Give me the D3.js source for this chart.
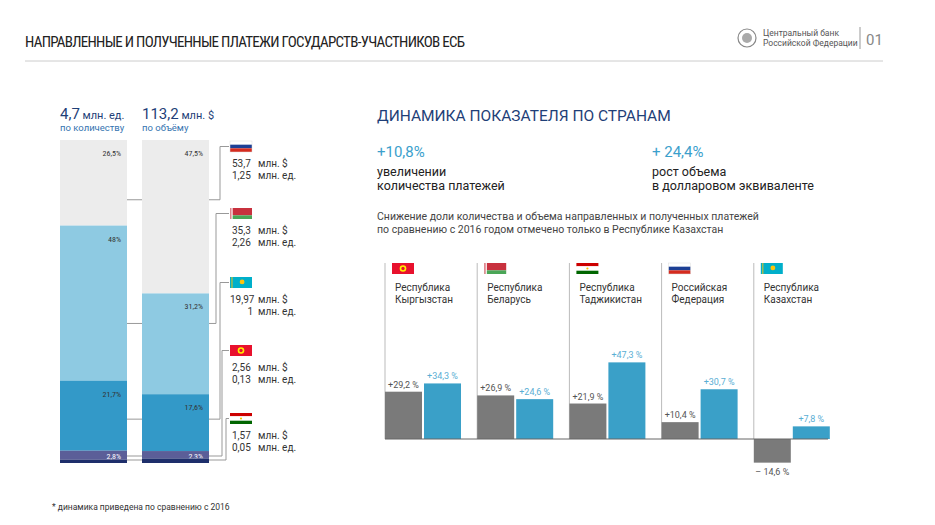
<!DOCTYPE html>
<html><head><meta charset="utf-8">
<script src="https://cdn.jsdelivr.net/npm/d3@7"></script>
<style>body{margin:0;background:#fff}svg{font-family:Roboto,"Noto Sans",sans-serif}</style>
</head><body><svg id="c" width="935" height="525"></svg>
<script>
// ---- data ----
const shareCountries = ["Россия","Беларусь","Казахстан","Кыргызстан","Таджикистан"];
const shareCount = [26.5, 48, 21.7, 2.8, 1.0];
const shareVolume = [47.5, 31.2, 17.6, 2.3, 1.4];
const shareCountLabels = ["26,5%","48%","21,7%","2,8%",""];
const shareVolumeLabels = ["47,5%","31,2%","17,6%","2,3%",""];
const volumeUsd = ["53,7","35,3","19,97","2,56","1,57"];
const countUnits = ["1,25","2,26","1","0,13","0,05"];
const flagCodes = ["ru","by","kz","kg","tj"];

const groups = ["Республика|Кыргызстан","Республика|Беларусь","Республика|Таджикистан","Российская|Федерация","Республика|Казахстан"];
const groupFlags = ["kg","by","tj","ru","kz"];
const growthCount = [29.2, 26.9, 21.9, 10.4, -14.6];
const growthVolume = [34.3, 24.6, 47.3, 30.7, 7.8];
const growthCountLabels = ["+29,2 %","+26,9 %","+21,9 %","+10,4 %","– 14,6 %"];
const growthVolumeLabels = ["+34,3 %","+24,6 %","+47,3 %","+30,7 %","+7,8 %"];

const segColors = ["#ececec","#8ecae2","#3399c8","#5b5e98","#1e2f6b"];
const svg = d3.select("#c");

// ---- header ----
svg.append("text").attr("x",25).attr("y",47).attr("font-size",15).attr("fill","#222")
  .attr("font-family","'Roboto Condensed','Liberation Sans Narrow',Roboto").attr("textLength",440)
  .text("НАПРАВЛЕННЫЕ И ПОЛУЧЕННЫЕ ПЛАТЕЖИ ГОСУДАРСТВ-УЧАСТНИКОВ ЕСБ");
svg.append("line").attr("x1",25).attr("x2",883).attr("y1",61).attr("y2",61).attr("stroke","#ccc");
svg.append("circle").attr("cx",747).attr("cy",38).attr("r",9).attr("fill","none").attr("stroke","#888").attr("stroke-width",1.2);
svg.append("circle").attr("cx",747).attr("cy",38).attr("r",5).attr("fill","#aaa");
svg.append("text").attr("x",763).attr("y",36).attr("font-size",8.5).attr("fill","#555").text("Центральный банк");
svg.append("text").attr("x",763).attr("y",46).attr("font-size",8.5).attr("fill","#555").text("Российской Федерации");
svg.append("line").attr("x1",860).attr("x2",860).attr("y1",27).attr("y2",49).attr("stroke","#999");
svg.append("text").attr("x",866).attr("y",45).attr("font-size",15).attr("fill","#888").text("01");

// ---- flags ----
function flag(g,code,x,y,w,h){
  const G=g.append("g").attr("transform",`translate(${x},${y})`);
  const r=(yy,hh,c)=>G.append("rect").attr("x",0).attr("y",yy*h).attr("width",w).attr("height",hh*h).attr("fill",c);
  if(code==="ru"){r(0,1/3,"#fff");r(1/3,1/3,"#1c3f94");r(2/3,1/3,"#d52b1e");G.append("rect").attr("width",w).attr("height",h).attr("fill","none").attr("stroke","#ddd").attr("stroke-width",0.5);}
  if(code==="by"){r(0,2/3,"#c8313e");r(2/3,1/3,"#4aa657");G.append("rect").attr("width",w*0.12).attr("height",h).attr("fill","#fff");G.append("rect").attr("width",w*0.07).attr("height",h).attr("fill","#c8313e").attr("opacity",0.6);}
  if(code==="kz"){r(0,1,"#00afca");G.append("circle").attr("cx",w*0.55).attr("cy",h*0.45).attr("r",h*0.22).attr("fill","#fec50c");G.append("rect").attr("x",w*0.06).attr("width",w*0.06).attr("height",h).attr("fill","#fec50c").attr("opacity",0.7);}
  if(code==="kg"){r(0,1,"#e8112d");G.append("circle").attr("cx",w/2).attr("cy",h/2).attr("r",h*0.3).attr("fill","#ffef00");G.append("circle").attr("cx",w/2).attr("cy",h/2).attr("r",h*0.15).attr("fill","#e8112d");}
  if(code==="tj"){r(0,0.3,"#cc0000");r(0.3,0.4,"#fff");r(0.7,0.3,"#006600");G.append("circle").attr("cx",w/2).attr("cy",h/2).attr("r",h*0.1).attr("fill","#f8c300");}
}

// ---- left stacked bars ----
const yS = d3.scaleLinear().domain([0,100]).range([140,463]);
const bars = [{x:60,data:shareCount,labels:shareCountLabels},{x:142,data:shareVolume,labels:shareVolumeLabels}];
const bw = 67;
const mids=[[],[]];
bars.forEach((b,bi)=>{
  let acc=0;
  b.data.forEach((v,i)=>{
    const y0=yS(acc), y1=yS(acc+v); acc+=v;
    mids[bi].push((y0+y1)/2);
    svg.append("rect").attr("x",b.x).attr("y",y0).attr("width",bw).attr("height",y1-y0).attr("fill",segColors[i]);
    if(b.labels[i]) svg.append("text").attr("x",b.x+bw-6).attr("y",y0+(i===3?8:16)).attr("text-anchor","end")
      .attr("font-size",8).attr("font-family","'Roboto Condensed','Liberation Sans Narrow',Roboto")
      .attr("fill",i===3?"#fff":"#333").text(b.labels[i]);
  });
});
svg.append("text").attr("x",60).attr("y",119).attr("fill","#1f3f78").call(t=>{t.append("tspan").attr("font-size",15).text("4,7");t.append("tspan").attr("font-size",11).text(" млн. ед.");});
svg.append("text").attr("x",60).attr("y",131).attr("fill","#3574b0").attr("font-size",9.5).text("по количеству");
svg.append("text").attr("x",142).attr("y",119).attr("fill","#1f3f78").call(t=>{t.append("tspan").attr("font-size",15).text("113,2");t.append("tspan").attr("font-size",11).text(" млн. $");});
svg.append("text").attr("x",142).attr("y",131).attr("fill","#3574b0").attr("font-size",9.5).text("по объёму");

const flagY=[141,208,277,345,413];
const vx=[220,216,220,222,226];
flagCodes.forEach((c,i)=>{
  const ly = i<3 ? (mids[0][i]+mids[1][i])/2 : (i===3?456:460);
  const fy = flagY[i]+5.5;
  svg.append("polyline").attr("fill","none").attr("stroke","#999").attr("stroke-width",1)
    .attr("points",`${60+bw},${ly} ${142},${ly}`);
  svg.append("polyline").attr("fill","none").attr("stroke","#999").attr("stroke-width",1)
    .attr("points",`${142+bw},${ly} ${vx[i]},${ly} ${vx[i]},${fy} ${229},${fy}`);
  flag(svg,c,230,flagY[i],22,11);
  const t1=flagY[i]+26, t2=flagY[i]+38;
  svg.append("text").attr("x",i===2?230:232).attr("y",t1).attr("font-size",10).attr("fill","#333").text(volumeUsd[i]);
  svg.append("text").attr("x",i===2?258:258).attr("y",t1).attr("font-size",10).attr("fill","#333").text("млн. $");
  svg.append("text").attr("x",i===2?253:232).attr("y",t2).attr("font-size",10).attr("fill","#333").attr("text-anchor",i===2?"end":"start").text(countUnits[i]);
  svg.append("text").attr("x",258).attr("y",t2).attr("font-size",10).attr("fill","#333").text("млн. ед.");
});

// ---- right panel ----
svg.append("text").attr("x",377).attr("y",121).attr("font-size",15.5).attr("fill","#1f3f78").text("ДИНАМИКА ПОКАЗАТЕЛЯ ПО СТРАНАМ");
svg.append("text").attr("x",377).attr("y",157).attr("font-size",15).attr("fill","#3ba0cc").text("+10,8%");
svg.append("text").attr("x",377).attr("y",176).attr("font-size",12.5).attr("fill","#222").text("увеличении");
svg.append("text").attr("x",377).attr("y",190).attr("font-size",12.5).attr("fill","#222").text("количества платежей");
svg.append("text").attr("x",652).attr("y",157).attr("font-size",15).attr("fill","#3ba0cc").text("+ 24,4%");
svg.append("text").attr("x",652).attr("y",176).attr("font-size",12.5).attr("fill","#222").text("рост объема");
svg.append("text").attr("x",652).attr("y",190).attr("font-size",12.5).attr("fill","#222").text("в долларовом эквиваленте");
svg.append("text").attr("x",377).attr("y",220).attr("font-size",10.5).attr("fill","#444").text("Снижение доли количества и объема направленных и полученных платежей");
svg.append("text").attr("x",377).attr("y",233).attr("font-size",10.5).attr("fill","#444").text("по сравнению с 2016 годом отмечено только в Республике Казахстан");

const x0 = d3.scaleBand().domain(groups).range([385,846]).paddingInner(0).paddingOuter(0);
const yG = d3.scaleLinear().domain([-15,50]).range([439+15*1.62,439-50*1.62]);
const barW=37;
groups.forEach((g,i)=>{
  const gx=x0(g);
  svg.append("line").attr("x1",gx).attr("x2",gx).attr("y1",263).attr("y2",yG(0)).attr("stroke","#bbb");
  flag(svg,groupFlags[i],gx+7,263,22,11);
  g.split("|").forEach((s,k)=>svg.append("text").attr("x",gx+10).attr("y",291+k*12).attr("font-size",10).attr("fill","#333").text(s));
  const vals=[growthCount[i],growthVolume[i]], labs=[growthCountLabels[i],growthVolumeLabels[i]];
  vals.forEach((v,k)=>{
    const bx=gx+k*(barW+2);
    svg.append("rect").attr("x",bx).attr("y",yG(Math.max(0,v))).attr("width",barW).attr("height",Math.abs(yG(v)-yG(0)))
      .attr("fill",k?"#3aa0c8":"#7a7a7a");
    const ty = v>=0 ? yG(v)-4 : yG(v)+12;
    svg.append("text").attr("x",bx+barW/2).attr("y",ty).attr("text-anchor","middle").attr("font-size",9)
      .attr("fill",k?"#5aaed4":"#555").text(labs[k]);
  });
});
svg.append("line").attr("x1",385).attr("x2",828).attr("y1",yG(0)).attr("y2",yG(0)).attr("stroke","#666");

svg.append("text").attr("x",52).attr("y",510).attr("font-size",8.5).attr("fill","#333").text("* динамика приведена по сравнению с 2016");
</script></body></html>
